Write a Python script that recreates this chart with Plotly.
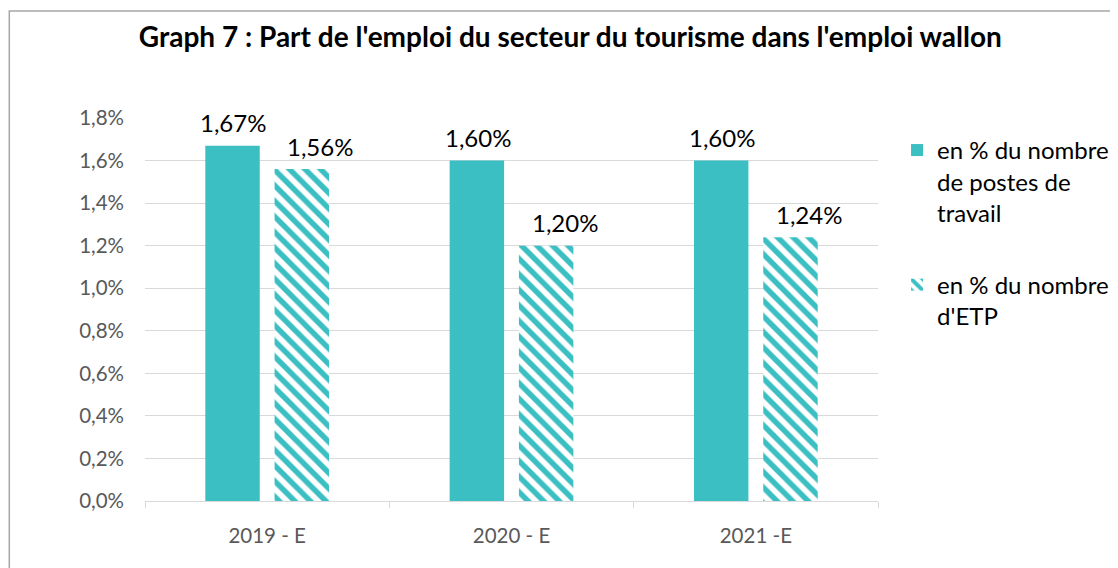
import plotly.graph_objects as go

years = ["2019 - E", "2020 - E", "2021 -E"]
postes = [1.67, 1.60, 1.60]
etp = [1.56, 1.20, 1.24]

TEAL = "#3BBFC2"
FONT = "Lato"

fig = go.Figure()

fig.add_trace(go.Bar(
    x=years, y=postes,
    name="en % du nombre<br>de postes de<br>travail",
    marker=dict(color=TEAL, line=dict(width=0)),
    legendgroup="a",
))

fig.add_trace(go.Bar(
    x=years, y=etp,
    name="en % du nombre<br>d'ETP",
    marker=dict(
        color="white",
        line=dict(width=0),
        pattern=dict(shape="\\", fgcolor=TEAL, bgcolor="white",
                     size=11, solidity=0.5, fillmode="replace"),
    ),
    legendgroup="b",
))

# data labels above the bars (bars sit 35px either side of the category centre;
# the hatched-bar labels are nudged a bit to the right like in the original)
for series, shift in [(postes, -34), (etp, 53)]:
    for yr, v in zip(years, series):
        fig.add_annotation(
            x=yr, y=v, text=f"{v:.2f}%".replace(".", ","),
            showarrow=False, xshift=shift, yshift=23, yanchor="middle",
            font=dict(size=24, color="#000000", family=FONT),
        )

fig.update_layout(
    width=1118, height=568,
    separators=", ",
    font=dict(family=FONT, color="#595959"),
    paper_bgcolor="white", plot_bgcolor="white",
    margin=dict(l=137, r=241, t=110, b=75),
    barmode="group", bargap=0.433, bargroupgap=0.214,
    title=dict(
        text="<b>Graph 7 : Part de l'emploi du secteur du tourisme dans l'emploi wallon</b>",
        xref="container", x=0.503, xanchor="center",
        y=1 - 29 / 568, yanchor="middle",
        font=dict(size=28, color="#000000", family=FONT),
    ),
    legend=dict(
        x=1.026, xanchor="left", y=0.974, yanchor="top",
        font=dict(size=24, color="#000000", family=FONT),
        tracegroupgap=38, itemwidth=30, valign="top",
        bgcolor="rgba(0,0,0,0)",
    ),
    showlegend=True,
)

fig.update_yaxes(
    range=[0, 1.8], dtick=0.2, tickformat=".1f", ticksuffix="%",
    showgrid=True, gridcolor="#D9D9D9", gridwidth=1,
    zeroline=False, showline=False,
    tickfont=dict(size=20.5, color="#595959"), ticklabelstandoff=20,
)
fig.update_xaxes(
    showline=True, linecolor="#D9D9D9", linewidth=1,
    ticks="outside", tickson="boundaries", ticklen=6, tickcolor="#D9D9D9",
    tickfont=dict(size=20.5, color="#595959"), ticklabelstandoff=16,
)

# outer chart border
fig.add_shape(
    type="rect", xref="paper", yref="paper",
    x0=(0 - 137) / 740, x1=(1130 - 137) / 740,
    y0=(493 - 580) / 383, y1=(493 - 3) / 383,
    line=dict(color="#A6A6A6", width=1.5), layer="below",
)

fig.write_html("out.html")
